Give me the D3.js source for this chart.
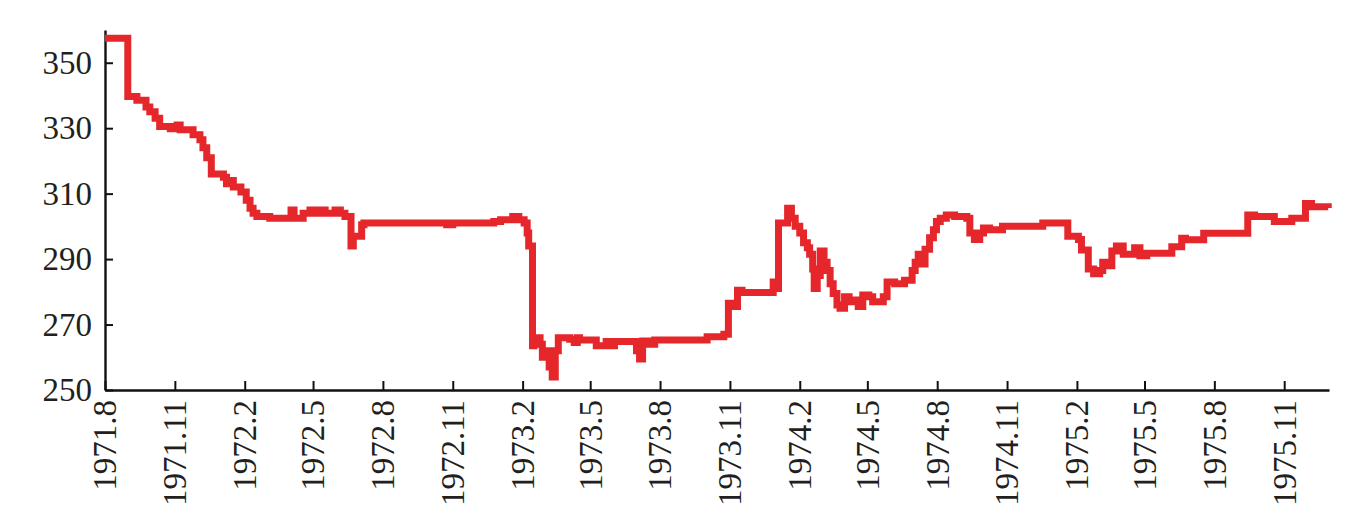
<!DOCTYPE html>
<html>
<head>
<meta charset="utf-8">
<script src="https://cdn.jsdelivr.net/npm/d3@7"></script>
<style>
  body { margin: 0; background: #fff; }
  svg { display: block; }
</style>
</head>
<body>
<div id="chart"></div>
<script>
// step dates and the value that holds from each date on
const dates = [
  "1971-08-01","1971-08-31","1971-09-12","1971-09-24","1971-09-29","1971-10-06","1971-10-12","1971-10-26",
  "1971-11-04","1971-11-08","1971-11-25","1971-12-04","1971-12-08","1971-12-13","1971-12-19","1972-01-04",
  "1972-01-08","1972-01-12","1972-01-17","1972-01-27","1972-02-03","1972-02-08","1972-02-12","1972-02-17",
  "1972-03-05","1972-03-27","1972-04-02","1972-04-06","1972-04-14","1972-04-18","1972-04-27","1972-05-03",
  "1972-05-10","1972-05-17","1972-05-30","1972-06-06","1972-06-12","1972-06-20","1972-06-23","1972-06-28",
  "1972-07-04","1972-07-07","1972-10-24","1972-11-01","1972-12-25","1973-01-03","1973-01-19","1973-01-27",
  "1973-02-03","1973-02-07","1973-02-09","1973-02-14","1973-02-16","1973-02-24","1973-02-27","1973-03-04",
  "1973-03-08","1973-03-12","1973-03-16","1973-03-20","1973-04-04","1973-04-10","1973-04-14","1973-04-17",
  "1973-05-09","1973-05-22","1973-05-29","1973-06-02","1973-07-01","1973-07-05","1973-07-09","1973-07-18",
  "1973-07-25","1973-10-02","1973-10-24","1973-10-30","1973-11-04","1973-11-11","1973-11-17","1973-12-28",
  "1974-01-01","1974-01-04","1974-01-16","1974-01-21","1974-01-26","1974-02-01","1974-02-06","1974-02-11",
  "1974-02-14","1974-02-18","1974-02-20","1974-02-24","1974-02-28","1974-03-05","1974-03-09","1974-03-13",
  "1974-03-17","1974-03-22","1974-03-26","1974-04-01","1974-04-07","1974-04-14","1974-04-19","1974-04-25",
  "1974-05-03","1974-05-08","1974-05-22","1974-05-27","1974-06-06","1974-06-19","1974-06-29","1974-07-03",
  "1974-07-07","1974-07-11","1974-07-16","1974-07-22","1974-07-27","1974-07-31","1974-08-05","1974-08-13",
  "1974-08-24","1974-09-09","1974-09-13","1974-09-19","1974-09-26","1974-10-01","1974-10-09","1974-10-26",
  "1974-12-18","1975-01-19","1975-01-20","1975-02-03","1975-02-07","1975-02-16","1975-02-23","1975-03-03",
  "1975-03-07","1975-03-12","1975-03-19","1975-03-25","1975-04-03","1975-04-18","1975-04-25","1975-05-04",
  "1975-06-06","1975-06-19","1975-06-24","1975-07-18","1975-09-14","1975-09-23","1975-10-19","1975-11-11",
  "1975-11-29","1975-12-07","1975-12-29"
];
const values = [
  357.5,339.7,338.5,336.5,335,333,330.5,329.8,
  331,329.5,328,326.5,324,321,316,315,
  313,314,312,310.5,308,305.5,304,303,
  302.5,302.5,305,302.5,302.5,304,305,304,
  305,304,305,304,303,294,297,297,
  300.5,301,300.5,301,301.5,302,303,302,
  301,298,294,263.5,266,264,260,262,
  257,254,262,266,265.5,264.5,266,265.3,
  263.5,264.8,263.5,264.8,262,259.5,265,264,
  265.3,266.3,267,276.5,275.5,280.5,279.8,283,
  281,301,305.5,302.5,300,298,295,293.5,
  291.5,287,281,285,292.5,289,286.5,282.5,
  279.5,276,275,278.5,277,277.5,275.5,279,
  278.5,277,278.5,283,282.5,283.5,286.5,289,
  291.5,288.5,293,296.5,299,301.5,302.5,303.5,
  303,302.5,298,296,298,299.5,299,300,
  301,301,297,296,292.8,287,285.5,286.5,
  289,288,292.5,294,291.5,293.5,291,291.8,
  293.8,296.4,295.9,297.9,303.5,303,301.5,302.5,
  307,306,305.6
];
const xTickLabels = ["1971.8","1971.11","1972.2","1972.5","1972.8","1972.11","1973.2","1973.5","1973.8",
  "1973.11","1974.2","1974.5","1974.8","1974.11","1975.2","1975.5","1975.8","1975.11"];
const yTicks = [250, 270, 290, 310, 330, 350];

const width = 1367, height = 531;
const margin = { left: 105, right: 38, top: 30, bottom: 141 };
const parse = d3.timeParse("%Y-%m-%d");
const parseTick = d3.timeParse("%Y.%m");

const data = dates.map((d, i) => ({ date: parse(d), value: values[i] }));

const x = d3.scaleTime()
  .domain([parse("1971-08-01"), parse("1975-12-30")])
  .range([margin.left, width - margin.right]);
const y = d3.scaleLinear()
  .domain([250, 360])
  .range([height - margin.bottom, margin.top]);

const svg = d3.select("#chart").append("svg")
  .attr("width", width)
  .attr("height", height);

const font = "'Liberation Serif', 'Times New Roman', serif";

// x axis, ticks pointing inward
const xAxis = svg.append("g")
  .attr("transform", `translate(0,${y(250)})`)
  .call(d3.axisBottom(x)
    .tickValues(xTickLabels.map(parseTick))
    .tickSize(-9)
    .tickSizeOuter(0)
    .tickFormat((d, i) => xTickLabels[i]));
xAxis.select(".domain").attr("stroke", "#111").attr("stroke-width", 2.4);
xAxis.selectAll(".tick line").attr("stroke", "#111").attr("stroke-width", 2);
xAxis.selectAll(".tick text")
  .attr("font-family", font)
  .attr("font-size", 33)
  .attr("fill", "#231f20")
  .attr("text-anchor", "end")
  .attr("transform", "rotate(-90)")
  .attr("x", -10)
  .attr("y", 0)
  .attr("dy", "0.33em");

// y axis, ticks pointing inward
const yAxis = svg.append("g")
  .attr("transform", `translate(${margin.left},0)`)
  .call(d3.axisLeft(y)
    .tickValues(yTicks)
    .tickSize(-8)
    .tickSizeOuter(0)
    .tickPadding(13));
yAxis.select(".domain").attr("stroke", "#111").attr("stroke-width", 2.4);
yAxis.selectAll(".tick line").attr("stroke", "#111").attr("stroke-width", 2);
yAxis.selectAll(".tick text")
  .attr("font-family", font)
  .attr("font-size", 33)
  .attr("fill", "#231f20");

const line = d3.line()
  .x(d => x(d.date))
  .y(d => y(d.value))
  .curve(d3.curveStepAfter);

svg.append("path")
  .datum(data)
  .attr("fill", "none")
  .attr("stroke", "#e5262b")
  .attr("stroke-width", 7)
  .attr("stroke-linejoin", "miter")
  .attr("d", line);
</script>
</body>
</html>
